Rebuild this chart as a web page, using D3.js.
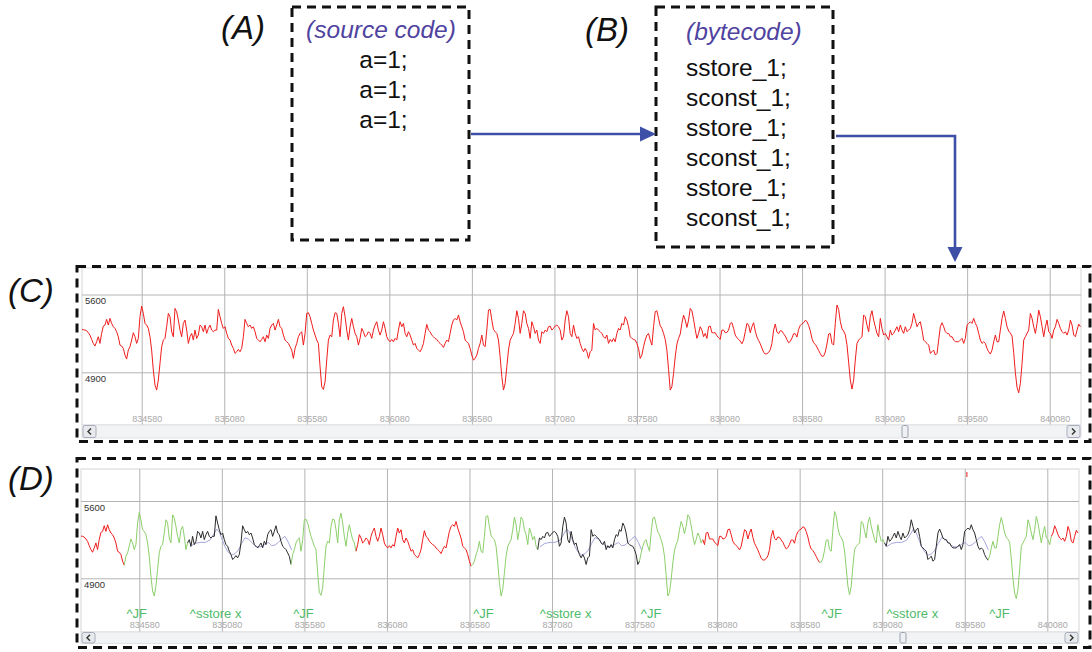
<!DOCTYPE html>
<html>
<head>
<meta charset="utf-8">
<script src="https://cdn.jsdelivr.net/npm/d3@7"></script>
<style>
  body { margin: 0; background: #fff; }
  svg { font-family: "Liberation Sans", Arial, sans-serif; display: block; }
  .box { fill: none; stroke: #111; stroke-width: 3; stroke-dasharray: 9,6; }
  .grid line { stroke: #b4b4b4; }
  .grid path { display: none; }
  .tick-x { fill: #a8a8a8; font-size: 9px; }
  .tick-y { fill: #333; font-size: 9.5px; }
  .trace { fill: none; stroke-width: 1; stroke-linejoin: round; }
  .panel-label { font-size: 33px; font-style: italic; fill: #111; }
  .code { font-size: 24.5px; fill: #111; }
  .code-title { font-size: 24.5px; font-style: italic; fill: #4f43a0; }
</style>
</head>
<body>
<script>
// ---- data ----
var sourceLines = ["a=1;", "a=1;", "a=1;"];
var bytecodeLines = ["sstore_1;", "sconst_1;", "sstore_1;", "sconst_1;", "sstore_1;", "sconst_1;"];

var xTicks = [834580, 835080, 835580, 836080, 836580, 837080, 837580, 838080, 838580, 839080, 839580, 840080];
var yTicks = [5600, 4900];

// power trace, one value every ~10.1 samples starting at 834206
var traceStart = 834206, traceStep = 10.1;
var trace = [
  5286,5286,5283,5280,5274,5256,5235,5196,5160,5136, 5175,5220,5160,5250,5316,5325,5376,5325,5385,5340,
  5310,5295,5265,5220,5145,5136,5115,5055,5019,5100, 5130,5190,5256,5220,5160,5205,5400,5496,5430,5340,
  5325,5295,5220,5100,4920,4785,4740,4830,4980,5130, 5190,5205,5310,5430,5400,5265,5220,5475,5445,5370,
  5280,5220,5340,5370,5280,5160,5220,5250,5190,5280, 5205,5235,5325,5310,5265,5325,5250,5295,5325,5280,
  5265,5280,5280,5466,5400,5340,5295,5310,5250,5205, 5190,5145,5115,5070,5085,5106,5085,5115,5220,5376,
  5340,5310,5325,5295,5310,5265,5205,5190,5175,5196, 5220,5175,5235,5205,5295,5325,5340,5280,5325,5376,
  5310,5295,5235,5190,5175,5160,5130,5100,5025,5115, 5160,5220,5250,5265,5145,5250,5430,5436,5400,5340,
  5280,5235,5190,5160,4950,4770,4746,4815,5010,5190,
  5235,5220,5370,5436,5430,5340,5220,5430,5490,5400, 5280,5190,5310,5385,5310,5250,5220,5145,5205,5295,
  5265,5220,5235,5265,5250,5205,5280,5325,5355,5280, 5235,5280,5355,5295,5220,5190,5175,5196,5175,5205,
  5190,5280,5355,5310,5340,5250,5220,5265,5235,5190, 5145,5160,5115,5100,5085,5115,5160,5250,5331,5280,
  5265,5235,5220,5205,5196,5175,5160,5145,5124,5160, 5190,5175,5250,5325,5370,5385,5370,5415,5355,5310,
  5265,5190,5175,5160,5115,5055,5010,5025,5055,5115, 5160,5235,5145,5130,5280,5460,5466,5370,5286,5265,
  5250,5190,5040,4860,4740,4800,4950,5100,5190,5220, 5250,5340,5454,5385,5250,5340,5454,5430,5340,5295,
  5205,5355,5310,5250,5280,5190,5160,5265,5250,5280, 5265,5310,5316,5280,5295,5316,5325,5310,5280,5190,
  5220,5370,5454,5400,5250,5220,5325,5250,5205,5220,
  5160,5115,5085,5115,5085,5025,5085,5100,5340,5280, 5295,5280,5265,5250,5220,5205,5235,5160,5196,5175,
  5205,5175,5250,5295,5280,5340,5325,5400,5370,5310, 5220,5205,5196,5190,5160,5115,5025,5055,5130,5190,
  5235,5250,5190,5145,5310,5445,5454,5385,5319,5295, 5250,5196,5100,4926,4740,4770,4890,5040,5154,5205,
  5244,5340,5415,5370,5304,5370,5475,5454,5376,5286, 5205,5250,5310,5280,5220,5250,5205,5310,5316,5256,
  5256,5256,5229,5211,5196,5280,5280,5256,5259,5280, 5340,5346,5295,5235,5211,5196,5181,5157,5190,5265,
  5340,5328,5256,5310,5346,5271,5217,5187,5157,5118, 5082,5064,5067,5079,5103,5160,5280,5334,5262,5247,
  5274,5271,5247,5226,5193,5166,5178,5208,5247,5247, 5217,5286,5322,5337,5346,5367,5358,5322,5274,5205,
  5166,5151,5127,5097,5067,5043,5046,5082,5154,5244,
  5250,5160,5145,5340,5505,5466,5358,5292,5271,5238, 5148,4992,4830,4749,4830,5010,5160,5190,5205,5220,
  5415,5400,5325,5265,5400,5454,5370,5310,5250,5220, 5385,5295,5235,5250,5220,5190,5280,5235,5250,5280,
  5310,5265,5325,5280,5250,5310,5265,5280,5295,5340, 5430,5370,5310,5340,5355,5280,5190,5175,5160,5145,
  5070,5085,5100,5055,5070,5190,5310,5346,5310,5265, 5250,5250,5220,5220,5190,5175,5175,5175,5190,5205,
  5160,5205,5325,5340,5355,5340,5385,5340,5310,5250, 5190,5160,5175,5160,5115,5085,5064,5100,5175,5235,
  5175,5175,5280,5385,5451,5385,5310,5271,5253,5226, 5076,4896,4764,4716,4800,4980,5190,5220,5250,5280,
  5430,5385,5310,5250,5340,5460,5400,5310,5220,5310, 5370,5265,5250,5205,5280,5310,5376,5340,5295,5265,
  5250,5265,5235,5280,5370,5325,5235,5220,5280,5334, 5310
];

// recognised segments in (D): boundaries and what each piece is
var segBounds = [834493, 834877, 835503, 835897, 836593, 836997, 837609, 837996, 838703, 839097, 839719, 840106];
var segKinds = ["other", "JF", "sstore", "JF", "other", "JF", "sstore", "JF", "other", "JF", "sstore", "JF", "other"];
var segLabels = {JF: "^JF", sstore: "^sstore x"};

// matched sstore template (offset from segment start, value)
var sstoreTplDx = [10, 40, 71, 101, 131, 151, 172, 186, 202, 222, 242, 262, 283, 303, 323, 343, 363, 384, 404, 424, 444, 464, 485, 505, 525, 545, 565, 585, 606, 626];
var sstoreTpl = [5186, 5216, 5225, 5225, 5246, 5292, 5346, 5322, 5262, 5186, 5135, 5111, 5123, 5156, 5216, 5268, 5256, 5225, 5195, 5183, 5189, 5207, 5225, 5195, 5201, 5225, 5256, 5280, 5225, 5156];

var markerX = [839593];

var colors = {other: "#f01c1c", JF: "#8ccf6a", sstore: "#2b2b2b", tpl: "#a6a6dc", label: "#4fbb6a", arrow: "#3d4fa6"};

// ---- drawing ----
var svg = d3.select("body").append("svg")
	.attr("width", 1092)
	.attr("height", 652);

var defs = svg.append("defs");

function idxOf(t) {
	return Math.round((t - traceStart) / traceStep);
}

function drawPanel(cfg) {
	var p = cfg.plot;
	var x = d3.scaleLinear().domain([xTicks[0], xTicks[xTicks.length - 1]]).range(cfg.xr);
	var y = d3.scaleLinear().domain([4900, 5600]).range(cfg.yr);
	var g = svg.append("g");

	defs.append("clipPath").attr("id", cfg.id + "-clip")
		.append("rect")
		.attr("x", p.x0).attr("y", p.y0)
		.attr("width", p.x1 - p.x0).attr("height", p.y1 - p.y0);

	g.append("rect")
		.attr("x", p.x0).attr("y", p.y0)
		.attr("width", p.x1 - p.x0).attr("height", p.y1 - p.y0)
		.attr("fill", "#fff").attr("stroke", "#d6d6d6");

	// vertical grid
	g.append("g")
		.attr("class", "grid")
		.attr("transform", "translate(0," + p.y1 + ")")
		.call(d3.axisBottom(x).tickValues(xTicks).tickSize(-(p.y1 - p.y0)).tickFormat(""));

	// horizontal grid
	g.append("g")
		.attr("class", "grid")
		.attr("transform", "translate(" + p.x0 + ",0)")
		.call(d3.axisLeft(y).tickValues(yTicks).tickSize(-(p.x1 - p.x0)).tickFormat(""));

	g.selectAll(".tick-y")
		.data(yTicks)
		.enter().append("text")
		.attr("class", "tick-y")
		.attr("x", p.x0 + 3)
		.attr("y", function (d) { return y(d) + 9.5; })
		.text(function (d) { return d; });

	g.selectAll(".tick-x")
		.data(xTicks)
		.enter().append("text")
		.attr("class", "tick-x")
		.attr("x", function (d) { return x(d) + 5.5; })
		.attr("y", cfg.tickY)
		.attr("text-anchor", "middle")
		.text(function (d) { return d; });

	var line = d3.line()
		.x(function (d) { return x(d[0]); })
		.y(function (d) { return y(d[1]); });

	var body = g.append("g").attr("clip-path", "url(#" + cfg.id + "-clip)");
	var pts = trace.map(function (v, i) { return [traceStart + i * traceStep, v]; });

	if (!cfg.segmented) {
		body.append("path")
			.attr("class", "trace")
			.attr("d", line(pts))
			.attr("stroke", colors.other);
	} else {
		// template overlay first, under the matched trace
		segKinds.forEach(function (k, s) {
			if (k !== "sstore") return;
			var t0 = segBounds[s - 1];
			var tpl = sstoreTpl.map(function (v, i) { return [t0 + sstoreTplDx[i], v]; });
			body.append("path")
				.attr("class", "trace")
				.attr("d", line(tpl))
				.attr("stroke", colors.tpl)
				.attr("stroke-width", 1.2);
		});
		segKinds.forEach(function (k, s) {
			var a = s === 0 ? 0 : idxOf(segBounds[s - 1]);
			var b = s === segKinds.length - 1 ? pts.length - 1 : idxOf(segBounds[s]);
			body.append("path")
				.attr("class", "trace")
				.attr("d", line(pts.slice(a, b + 1)))
				.attr("stroke", colors[k])
				.attr("stroke-width", k === "sstore" ? 1.6 : 1.1);
			if (segLabels[k]) {
				g.append("text")
					.attr("x", x(segBounds[s - 1]) + 1.5)
					.attr("y", cfg.labelY)
					.attr("fill", colors.label)
					.style("font-size", "13px")
					.text(segLabels[k]);
			}
		});
		g.selectAll(".marker")
			.data(markerX)
			.enter().append("line")
			.attr("x1", function (d) { return x(d); })
			.attr("x2", function (d) { return x(d); })
			.attr("y1", p.y0 + 3).attr("y2", p.y0 + 8)
			.attr("stroke", colors.other);
	}

	// scrollbar
	var sb = cfg.scroll;
	g.append("rect")
		.attr("x", p.x0).attr("y", p.y1)
		.attr("width", p.x1 - p.x0).attr("height", sb.h)
		.attr("fill", "#f2f3f5").attr("stroke", "#e1e2e6");
	[[p.x0 + 1, -1], [sb.right, 1]].forEach(function (bt) {
		g.append("rect")
			.attr("x", bt[0]).attr("y", p.y1 + 0.5)
			.attr("width", 13).attr("height", sb.h - 1)
			.attr("rx", 2)
			.attr("fill", "#e8eaee").attr("stroke", "#a7adba");
		var cx = bt[0] + 6.5, cy = p.y1 + sb.h / 2;
		g.append("path")
			.attr("d", "M" + (cx - 1.5 * bt[1]) + "," + (cy - 3) + "L" + (cx + 1.5 * bt[1]) + "," + cy + "L" + (cx - 1.5 * bt[1]) + "," + (cy + 3))
			.attr("fill", "none").attr("stroke", "#333").attr("stroke-width", 1.4);
	});
	g.append("rect")
		.attr("x", sb.thumb).attr("y", p.y1 + 0.5)
		.attr("width", 6).attr("height", sb.h - 1)
		.attr("rx", 1.5)
		.attr("fill", "#eef0f3").attr("stroke", "#9aa0ac");

	// dashed frame
	svg.append("rect")
		.attr("class", "box")
		.attr("x", cfg.box[0]).attr("y", cfg.box[1])
		.attr("width", cfg.box[2]).attr("height", cfg.box[3]);
}

drawPanel({
	id: "c",
	plot: {x0: 82, x1: 1081, y0: 268, y1: 425},
	xr: [141.7, 1049.7],
	yr: [372.3, 294.5],
	tickY: 421.5,
	scroll: {h: 13, right: 1067, thumb: 902},
	box: [77, 266.5, 1013, 175],
	segmented: false
});

drawPanel({
	id: "d",
	plot: {x0: 81, x1: 1079, y0: 469, y1: 632},
	xr: [139.3, 1047.3],
	yr: [578.3, 501],
	tickY: 628,
	labelY: 617.5,
	scroll: {h: 11.5, right: 1065, thumb: 900},
	box: [77, 458.5, 1013, 189],
	segmented: true
});

// ---- top: source code and bytecode boxes ----
svg.append("rect").attr("class", "box").attr("x", 292).attr("y", 7).attr("width", 177).attr("height", 233);
svg.append("rect").attr("class", "box").attr("x", 656).attr("y", 7).attr("width", 177).attr("height", 240);

svg.append("text").attr("class", "panel-label").attr("x", 221).attr("y", 39).text("(A)");
svg.append("text").attr("class", "panel-label").attr("x", 585).attr("y", 41).text("(B)");
svg.append("text").attr("class", "panel-label").attr("x", 8).attr("y", 302).text("(C)");
svg.append("text").attr("class", "panel-label").attr("x", 8).attr("y", 490).text("(D)");

svg.append("text").attr("class", "code-title").attr("x", 381).attr("y", 37.5)
	.attr("text-anchor", "middle").text("(source code)");
svg.selectAll(".src")
	.data(sourceLines)
	.enter().append("text")
	.attr("class", "code")
	.attr("x", 383.5)
	.attr("y", function (d, i) { return 68 + i * 30; })
	.attr("text-anchor", "middle")
	.text(function (d) { return d; });

svg.append("text").attr("class", "code-title").attr("x", 686).attr("y", 40).text("(bytecode)");
svg.selectAll(".bc")
	.data(bytecodeLines)
	.enter().append("text")
	.attr("class", "code")
	.attr("x", 686)
	.attr("y", function (d, i) { return 76 + i * 30; })
	.text(function (d) { return d; });

// arrows
svg.append("path")
	.attr("d", "M471,134H642")
	.attr("fill", "none").attr("stroke", colors.arrow).attr("stroke-width", 2.6);
svg.append("path")
	.attr("d", "M640,126.5L656,134L640,141.5Z")
	.attr("fill", colors.arrow);
svg.append("path")
	.attr("d", "M836,136H955V249")
	.attr("fill", "none").attr("stroke", colors.arrow).attr("stroke-width", 2.6);
svg.append("path")
	.attr("d", "M947.5,247L955,262L962.5,247Z")
	.attr("fill", colors.arrow);
</script>
</body>
</html>
